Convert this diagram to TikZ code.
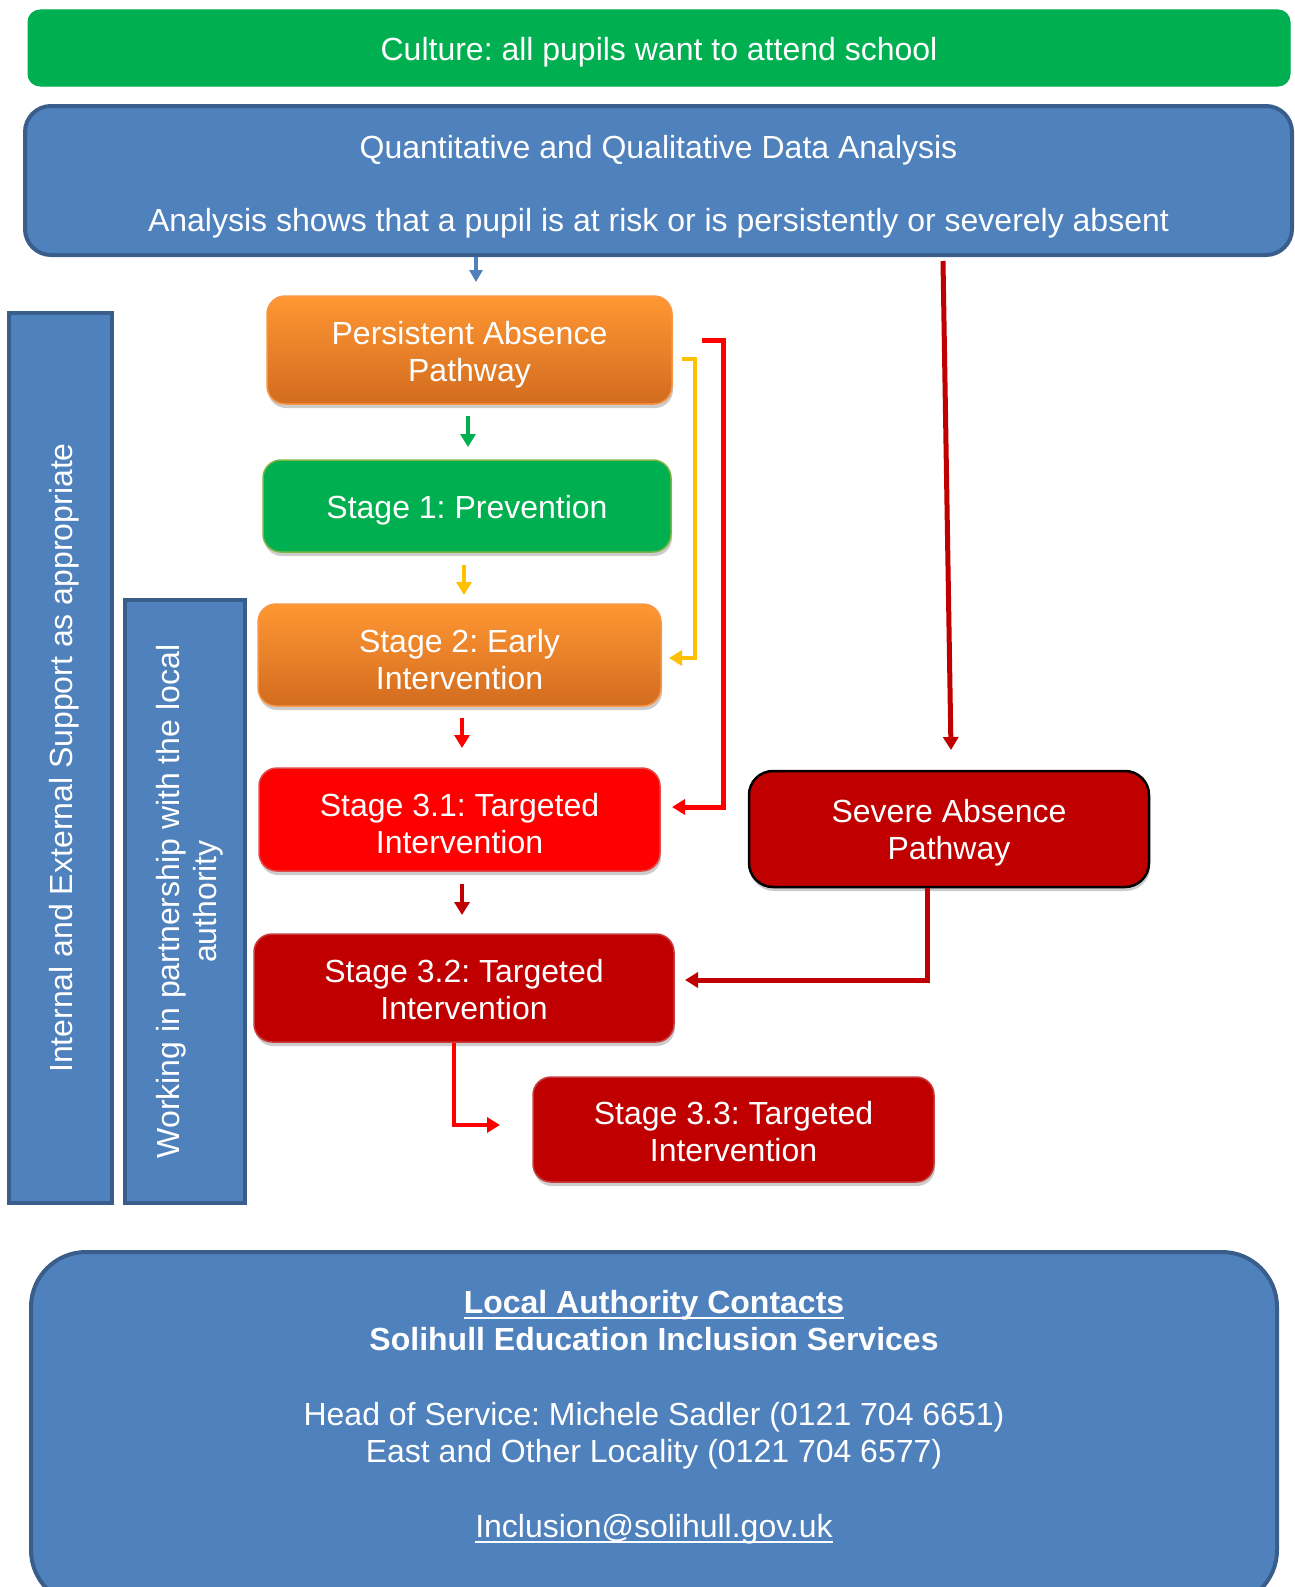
\documentclass[tikz,border=0pt]{standalone}
\usepackage{fontspec}
\setmainfont{Liberation Sans}
\usetikzlibrary{arrows.meta,shadows}
\definecolor{cgreen}{HTML}{00B050}
\definecolor{cgreenedge}{HTML}{7DB544}
\definecolor{cblue}{HTML}{4F81BD}
\definecolor{cblueedge}{HTML}{3A5E8C}
\definecolor{corangetop}{HTML}{FF9733}
\definecolor{corangebot}{HTML}{D26C1F}
\definecolor{corangeedge}{HTML}{F79646}
\definecolor{cred}{HTML}{FF0000}
\definecolor{crededge}{HTML}{E34848}
\definecolor{cdred}{HTML}{C00000}
\definecolor{cdrededge}{HTML}{C83C3C}
\definecolor{cyellow}{HTML}{FFC000}
\newcommand{\myul}[1]{\leavevmode\setbox0=\hbox{#1}\rlap{\rule[-6pt]{\wd0}{2.5pt}}\box0}
\newcommand{\tup}[1]{\rule{0pt}{#1pt}}
\frenchspacing
\begin{document}
\begin{tikzpicture}[x=1pt,y=-1pt,
  txt/.style={text=white, font=\fontsize{32}{37}\selectfont\frenchspacing, align=center, inner sep=0pt},
  stagebox/.style={txt, rounded corners=18pt, line width=1.5pt,
    drop shadow={shadow xshift=1pt, shadow yshift=-4pt, opacity=0.2, fill=black}},
  bluebox/.style={txt, fill=cblue, draw=cblueedge, line width=4pt},
  arr/.style={line width=4pt, -{Triangle[width=15pt,length=13pt]}},
]
\useasboundingbox (0,0) rectangle (1295,1587);
\clip (0,0) rectangle (1295,1587);

% top boxes
\node[bluebox, draw=cgreen, line width=1pt, fill=cgreen, rounded corners=12pt,
  minimum width=1262pt, minimum height=76pt] (culture) at (659,48)
  {\tup{31}Culture: all pupils want to attend school};
\node[bluebox, rounded corners=26pt, minimum width=1267pt, minimum height=149pt]
  (analysis) at (658.5,180.5)
  {\tup{35}Quantitative and Qualitative Data Analysis\\[36pt]Analysis shows that a pupil is at risk or is persistently or severely absent};

% side bars
\node[bluebox, rotate=90, minimum width=890pt, minimum height=103pt] (outer) at (60.5,758)
  {\tup{31}Internal and External Support as appropriate};
\node[bluebox, rotate=90, minimum width=603pt, minimum height=120pt] (inner) at (185,901.5)
  {\tup{33}Working in partnership with the local\\authority};

% stages
\node[stagebox, top color=corangetop, bottom color=corangebot, draw=corangeedge,
  minimum width=405pt, minimum height=108pt] (pa) at (469.5,350) {\tup{33}Persistent Absence\\Pathway};
\node[stagebox, fill=cgreen, draw=cgreenedge,
  minimum width=408pt, minimum height=92pt] (s1) at (467,506) {\tup{31}Stage 1: Prevention};
\node[stagebox, top color=corangetop, bottom color=corangebot, draw=corangeedge,
  minimum width=403pt, minimum height=102pt] (s2) at (459.5,655) {\tup{33}Stage 2: Early\\Intervention};
\node[stagebox, fill=cred, draw=crededge,
  minimum width=401pt, minimum height=103pt] (s31) at (459.5,819.5) {\tup{31}Stage 3.1: Targeted\\Intervention};
\node[stagebox, fill=cdred, draw=cdrededge,
  minimum width=420pt, minimum height=108pt] (s32) at (464,988) {\tup{27}Stage 3.2: Targeted\\Intervention};
\node[stagebox, fill=cdred, draw=cdrededge,
  minimum width=401pt, minimum height=105pt] (s33) at (733.5,1129.5) {\tup{27}Stage 3.3: Targeted\\Intervention};
\node[stagebox, fill=cdred, draw=black, line width=2.5pt, rounded corners=24pt,
  minimum width=400pt, minimum height=116pt] (severe) at (949,829) {\tup{31}Severe Absence\\Pathway};

% contacts
\node[bluebox, rounded corners=55pt, minimum width=1246pt, minimum height=353pt]
  (contacts) at (654,1428.5) {};
\node[txt] (contacttext) at (654,1417)
  {\myul{\textbf{Local Authority Contacts}}\\
   \textbf{Solihull Education Inclusion Services}\\[38pt]
   Head of Service: Michele Sadler (0121 704 6651)\\
   East and Other Locality (0121 704 6577)\\[38pt]
   \myul{Inclusion@solihull.gov.uk}};

% connectors
\coordinate (ba) at (476,282);
\draw[cblue, line width=3.5pt, -{Triangle[width=13pt,length=12pt]}] (analysis.south -| ba) -- (ba);
\coordinate (ga) at (468,416); \coordinate (gb) at (468,447);
\draw[arr, cgreen] (ga) -- (gb);
\coordinate (ya1) at (464,565); \coordinate (ya2) at (464,595);
\draw[arr, cyellow] (ya1) -- (ya2);
\coordinate (ra1) at (462,718); \coordinate (ra2) at (462,748);
\draw[arr, cred] (ra1) -- (ra2);
\coordinate (da1) at (462,884); \coordinate (da2) at (462,915);
\draw[arr, cdred] (da1) -- (da2);

\coordinate (ya) at (682,359); \coordinate (yb) at (669,658);
\draw[arr, cyellow] (ya) -- ++(13,0) |- (yb);
\coordinate (ra) at (702,340); \coordinate (rb) at (672,807);
\draw[arr, cred, line width=5pt] (ra) -- ++(21,0) |- (rb);

\coordinate (sa) at (943,261); \coordinate (sb) at (951,750);
\draw[arr, cdred, line width=5pt] (sa) -- (sb);
\coordinate (sc) at (927,980); \coordinate (sd) at (685,980);
\draw[arr, cdred, line width=5pt] (severe.south -| sc) -- (sc) -- (sd);
\coordinate (se) at (454,1125); \coordinate (sf) at (500,1125);
\draw[arr, cred] (s32.south -| se) -- (se) -- (sf);
\end{tikzpicture}
\end{document}
